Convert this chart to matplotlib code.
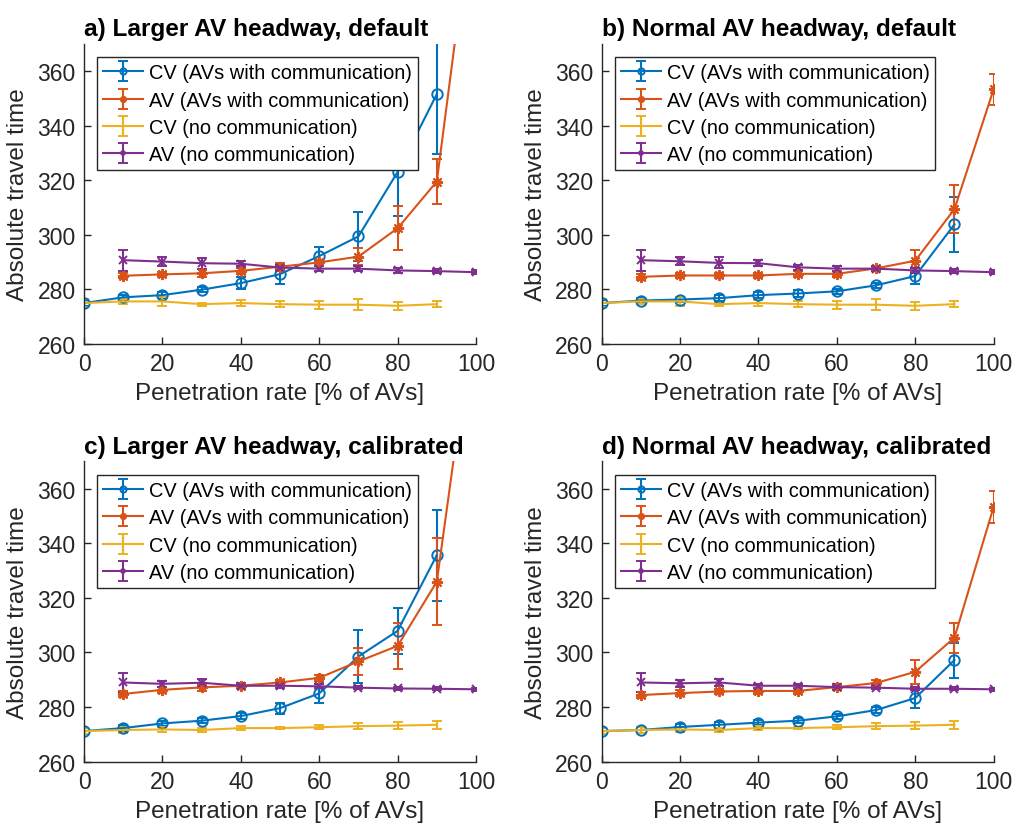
import numpy as np
import matplotlib
matplotlib.use("Agg")
import matplotlib.pyplot as plt

plt.rcParams['font.family'] = ['Liberation Sans', 'DejaVu Sans']

# penetration rates
x_cv = [0, 10, 20, 30, 40, 50, 60, 70, 80, 90]
x_av = [10, 20, 30, 40, 50, 60, 70, 80, 90, 100]

titles = ["a) Larger AV headway, default",
          "b) Normal AV headway, default",
          "c) Larger AV headway, calibrated",
          "d) Normal AV headway, calibrated"]
labels = ["CV (AVs with communication)", "AV (AVs with communication)",
          "CV (no communication)", "AV (no communication)"]

# a) larger headway, default
cv_comm_a = [275.0, 277.1, 277.9, 279.9, 282.3, 285.6, 292.2, 299.4, 323.0, 351.5]
cv_comm_a_err = [1.0, 1.0, 1.0, 1.0, 2.2, 3.5, 3.5, 9.0, 16.0, 22.0]
av_comm_a = [285.0, 285.5, 285.9, 286.8, 288.3, 289.9, 292.0, 302.4, 319.5, 430.0]
av_comm_a_err = [1.0, 1.0, 1.5, 1.0, 1.5, 1.0, 3.0, 8.0, 8.3, 10.0]
cv_nc_a = [275.0, 275.6, 275.6, 274.6, 275.0, 274.6, 274.4, 274.4, 274.0, 274.6]
cv_nc_a_err = [1.5, 1.0, 1.5, 0.5, 1.0, 1.0, 1.5, 2.0, 1.5, 1.2]
av_nc_a = [290.7, 290.2, 289.6, 289.4, 288.0, 287.6, 287.6, 286.95, 286.7, 286.3]
av_nc_a_err = [3.8, 1.5, 2.0, 1.0, 1.0, 0.8, 0.8, 0.8, 0.8, 0.8]

# b) normal headway, default
cv_comm_b = [275.0, 275.9, 276.3, 276.8, 277.9, 278.5, 279.3, 281.5, 284.9, 303.8]
cv_comm_b_err = [1.0, 1.0, 1.0, 1.0, 1.0, 1.2, 1.0, 1.0, 3.0, 10.0]
av_comm_b = [284.6, 285.1, 285.1, 285.1, 285.7, 285.7, 287.7, 290.5, 309.4, 353.3]
av_comm_b_err = [1.2, 1.0, 1.0, 1.0, 1.0, 1.0, 1.0, 4.0, 8.8, 5.6]
cv_nc_b = [275.0, 275.6, 275.6, 274.6, 275.0, 274.6, 274.4, 274.4, 274.0, 274.6]
cv_nc_b_err = [1.5, 1.0, 1.5, 0.5, 1.0, 1.0, 1.5, 2.0, 1.5, 1.2]
av_nc_b = [290.7, 290.3, 289.7, 289.6, 288.1, 287.6, 287.6, 286.95, 286.7, 286.3]
av_nc_b_err = [3.8, 1.5, 2.0, 1.0, 1.0, 0.8, 0.8, 0.8, 0.8, 0.8]

# c) larger headway, calibrated
cv_comm_c = [271.2, 272.3, 274.0, 275.0, 276.7, 279.6, 285.0, 298.5, 307.9, 335.6]
cv_comm_c_err = [1.0, 1.0, 1.0, 1.0, 1.0, 2.0, 3.5, 9.6, 8.4, 16.6]
av_comm_c = [284.8, 286.3, 287.2, 287.8, 289.0, 290.7, 296.7, 302.4, 325.9, 430.0]
av_comm_c_err = [1.2, 1.0, 1.2, 1.0, 1.0, 1.0, 5.0, 8.4, 16.0, 10.0]
cv_nc_c = [271.2, 271.6, 271.8, 271.6, 272.3, 272.3, 272.6, 273.0, 273.2, 273.5]
cv_nc_c_err = [1.0, 1.0, 0.8, 0.8, 0.8, 0.5, 0.8, 1.0, 1.2, 1.5]
av_nc_c = [289.0, 288.5, 288.9, 287.8, 287.8, 287.6, 287.1, 286.8, 286.7, 286.5]
av_nc_c_err = [3.5, 1.2, 1.2, 0.8, 0.8, 0.8, 0.6, 0.6, 0.6, 0.6]

# d) normal headway, calibrated
cv_comm_d = [271.2, 271.6, 272.7, 273.5, 274.3, 275.0, 276.6, 278.9, 283.3, 297.2]
cv_comm_d_err = [1.0, 1.0, 1.0, 1.0, 1.0, 1.0, 1.0, 1.0, 3.5, 6.4]
av_comm_d = [284.4, 285.1, 285.7, 285.9, 285.9, 287.3, 288.8, 292.9, 305.4, 353.3]
av_comm_d_err = [1.0, 1.0, 1.0, 1.0, 1.0, 1.0, 1.0, 4.4, 5.5, 5.8]
cv_nc_d = [271.2, 271.6, 271.8, 271.6, 272.3, 272.3, 272.6, 273.0, 273.2, 273.5]
cv_nc_d_err = [1.0, 1.0, 0.8, 0.8, 0.8, 0.5, 0.8, 1.0, 1.2, 1.5]
av_nc_d = [289.0, 288.7, 289.0, 287.8, 287.8, 287.3, 287.1, 286.7, 286.7, 286.5]
av_nc_d_err = [3.5, 1.2, 1.2, 0.8, 0.8, 0.8, 0.6, 0.6, 0.6, 0.6]

panels = [
    (cv_comm_a, cv_comm_a_err, av_comm_a, av_comm_a_err, cv_nc_a, cv_nc_a_err, av_nc_a, av_nc_a_err),
    (cv_comm_b, cv_comm_b_err, av_comm_b, av_comm_b_err, cv_nc_b, cv_nc_b_err, av_nc_b, av_nc_b_err),
    (cv_comm_c, cv_comm_c_err, av_comm_c, av_comm_c_err, cv_nc_c, cv_nc_c_err, av_nc_c, av_nc_c_err),
    (cv_comm_d, cv_comm_d_err, av_comm_d, av_comm_d_err, cv_nc_d, cv_nc_d_err, av_nc_d, av_nc_d_err),
]

colors = ['#0072BD', '#D95319', '#EDB120', '#7E2F8E']
markers = ['o', (8, 2, 0), None, 'x']
msizes = [7.5, 8, 0, 6]
dark = '#262626'

fig = plt.figure(figsize=(10.16, 8.28), dpi=100)
positions = [[0.0827, 0.5833, 0.3858, 0.3628],
             [0.5922, 0.5833, 0.3858, 0.3628],
             [0.0827, 0.0789, 0.3858, 0.3628],
             [0.5922, 0.0789, 0.3858, 0.3628]]

for k, pos in enumerate(positions):
    ax = fig.add_axes(pos)
    d = panels[k]
    series = [(x_cv, d[0], d[1]), (x_av, d[2], d[3]), (x_cv, d[4], d[5]), (x_av, d[6], d[7])]
    for i, (xs, ys, es) in enumerate(series):
        ax.errorbar(xs, ys, yerr=es, color=colors[i], marker=markers[i],
                    markersize=msizes[i], mfc='none', mew=1.4,
                    lw=1.5, elinewidth=1.5, capsize=3.5, capthick=1.5,
                    label=labels[i])
    ax.set_xlim(0, 100)
    ax.set_ylim(260, 370)
    ax.set_xticks([0, 20, 40, 60, 80, 100])
    ax.set_yticks([260, 280, 300, 320, 340, 360])
    ax.spines['top'].set_visible(False)
    ax.spines['right'].set_visible(False)
    for s in ['left', 'bottom']:
        ax.spines[s].set_color(dark)
        ax.spines[s].set_linewidth(1.0)
    ax.tick_params(direction='in', length=5, width=1.0, colors=dark, labelsize=16.5)
    ax.tick_params(axis='x', pad=6)
    ax.tick_params(axis='y', pad=6)
    ax.set_xlabel("Penetration rate [% of AVs]", fontsize=17.5, color=dark, labelpad=5)
    ax.set_ylabel("Absolute travel time", fontsize=17.5, color=dark, labelpad=6)
    ax.set_title(titles[k], fontsize=17.6, fontweight='bold', pad=6, loc='left')
    leg = ax.legend(loc='upper left', bbox_to_anchor=(0.033, 0.955), borderaxespad=0,
                    fontsize=14.4, frameon=True, fancybox=False, handlelength=2.0,
                    labelspacing=0.42, handletextpad=0.3, borderpad=0.3,
                    edgecolor=dark, markerscale=0.6)
    leg.get_frame().set_linewidth(1.0)
    leg.get_frame().set_alpha(1)

fig.savefig("out.png", dpi=100)
